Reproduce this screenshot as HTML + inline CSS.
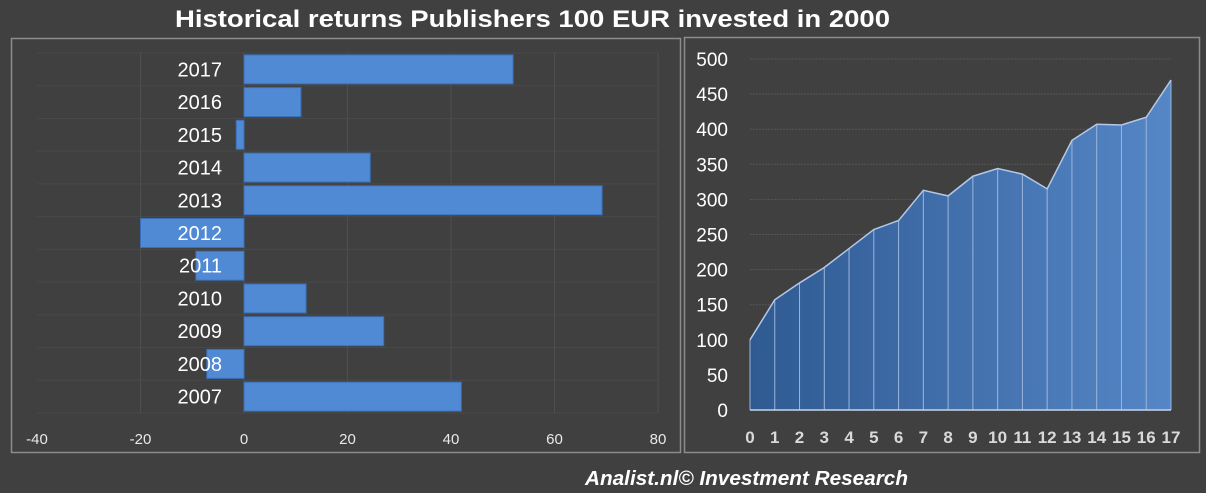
<!DOCTYPE html>
<html><head><meta charset="utf-8"><style>
html,body{margin:0;padding:0;background:#404040;}
svg{display:block;font-family:"Liberation Sans",sans-serif;}
</style></head><body>
<svg id="c" width="1206" height="493" viewBox="0 0 1206 493">
<defs>
<linearGradient id="ag" x1="0" x2="1" y1="0" y2="0">
<stop offset="0" stop-color="#2f5a92"/><stop offset="1" stop-color="#5586c6"/>
</linearGradient>
</defs>
<rect x="0" y="0" width="1206" height="493" fill="#404040"/>
<text x="175" y="27" textLength="715" lengthAdjust="spacingAndGlyphs" font-size="24" font-weight="bold" fill="#ffffff">Historical returns Publishers 100 EUR invested in 2000</text>
<rect x="11.5" y="38.5" width="669" height="414" fill="none" stroke="#8c8c8c" stroke-width="1.5"/>
<rect x="684.5" y="37.5" width="515" height="415" fill="none" stroke="#8c8c8c" stroke-width="1.5"/>
<g id="left"></g>
<g id="right"></g>
<text x="585" y="485" textLength="323" lengthAdjust="spacingAndGlyphs" font-size="20" font-weight="bold" font-style="italic" fill="#ffffff">Analist.nl© Investment Research</text>
</svg>
<script>
const years = ["2017","2016","2015","2014","2013","2012","2011","2010","2009","2008","2007"];
const returns = [52, 11, -1.5, 24.4, 69.2, -20, -9.3, 12, 27, -7.2, 42];
const xTicks = [-40, -20, 0, 20, 40, 60, 80];
const periods = [0,1,2,3,4,5,6,7,8,9,10,11,12,13,14,15,16,17];
const values = [100,157,181,203,230,257,270,313,305,333,344,336,315,384,407,406,417,470];
const yTicks = [0,50,100,150,200,250,300,350,400,450,500];

const NS = "http://www.w3.org/2000/svg";
function mk(parent, tag, attrs){ const e=document.createElementNS(NS,tag); for(const k in attrs) e.setAttribute(k,attrs[k]); parent.appendChild(e); return e; }

// Left bar chart
const L = document.getElementById('left');
const x0=37, x1=658, yTop=53, yBot=413;
const xs = v => x0 + (v - (-40)) / 120 * (x1 - x0);
const rowH = (yBot - yTop) / years.length;
for (let i=0;i<=years.length;i++){
  const g = mk(L,'line',{x1:x0,x2:x1,y1:yTop+i*rowH,y2:yTop+i*rowH,stroke:'#484848','stroke-width':1});
  
  
}
xTicks.forEach(t=>{
  if (t!==-40){
  const g = mk(L,'line',{x1:xs(t),x2:xs(t),y1:yTop,y2:yBot,stroke:'#4e4e4e','stroke-width':1});
  
  
  }
  const tx = mk(L,'text',{x:xs(t),y:444,'text-anchor':'middle','font-size':15,fill:'#e8e8e8'});
  tx.textContent = t;
  
  
});
years.forEach((y,i)=>{
  const v = returns[i];
  const cy = yTop + (i+0.5)*rowH;
  const bx = Math.min(xs(0), xs(v)), bw = Math.abs(xs(v)-xs(0));
  const r = mk(L,'rect',{x:bx,y:cy-14.5,width:Math.max(bw,1),height:29,fill:'#5089d4',stroke:'#3a6fb5','stroke-width':1});
  
  
  const t = mk(L,'text',{x:222,y:cy+7,'text-anchor':'end','font-size':20,fill:'#ffffff'});
  t.textContent = y;
  
  
});

// Right area chart
const R = document.getElementById('right');
const px0=750, px1=1171, py0=410, py1=59;
const X = p => px0 + p/17*(px1-px0);
const Y = v => py0 - v/500*(py0-py1);
yTicks.forEach(t=>{
  if (t>0){
  const g = mk(R,'line',{x1:px0,x2:px1,y1:Y(t),y2:Y(t),stroke:'#555555','stroke-width':1,'stroke-dasharray':'2,1'});
  
  
  }
  const tx = mk(R,'text',{x:728,y:Y(t)+7,'text-anchor':'end','font-size':19,fill:'#ffffff'});
  tx.textContent = t;
  
  
});
let d = 'M'+X(periods[0])+','+Y(0);
periods.forEach((p,i)=>{ d += ' L'+X(p)+','+Y(values[i]); });
d += ' L'+X(periods[periods.length-1])+','+Y(0)+' Z';
const area = mk(R,'path',{d:d,fill:'url(#ag)'});


periods.forEach((p,i)=>{
  const l = mk(R,'line',{x1:X(p),x2:X(p),y1:Y(0),y2:Y(values[i]),stroke:'#9bb6dc','stroke-width':1});
  
  
  const t = mk(R,'text',{x:X(p),y:443,'text-anchor':'middle','font-size':17,'font-weight':'bold',fill:'#d9d9d9'});
  t.textContent = p;
  
  
});
const line = mk(R,'polyline',{points:periods.map((p,i)=>X(p)+','+Y(values[i])).join(' '),fill:'none',stroke:'#b4c8e6','stroke-width':1.5});


const base = mk(R,'line',{x1:px0,x2:px1,y1:Y(0),y2:Y(0),stroke:'#c8d4e6','stroke-width':1.5});


</script>
</body></html>
